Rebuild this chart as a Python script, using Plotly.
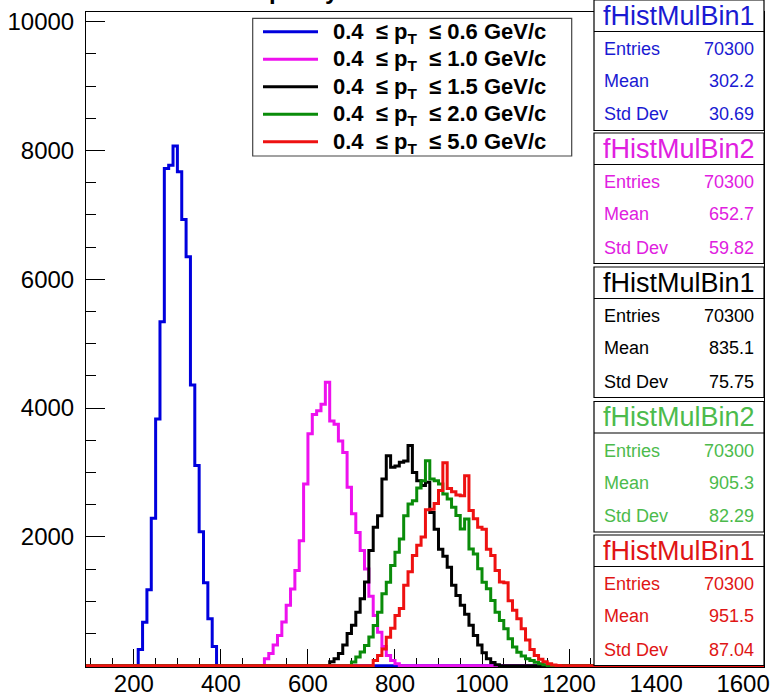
import plotly.graph_objects as go

# ---------------- data ----------------
BIN_WIDTH = 10
GRID_START, GRID_END = 90, 1650

blue_start = 210
blue_counts = [250, 675, 1180, 2290, 3830, 5340, 7720, 7770, 8070, 7670,
               6930, 6350, 4360, 3110, 2080, 1290, 730, 300]

magenta_start = 500
magenta_counts = [110, 190, 320, 470, 680, 940, 1190, 1480, 1940, 2820,
                  3600, 3900, 3960, 4060, 4400, 3800, 3750, 3490, 3310, 2770,
                  2360, 2070, 1790, 1500, 1080, 780, 520, 300, 160, 80, 30]

black_start = 650
black_counts = [60, 110, 190, 320, 500, 630, 830, 1040, 1300, 1790,
                2150, 2330, 2900, 3260, 3080, 3100, 3160, 3180, 3420, 3000,
                2870, 2800, 2850, 2380, 2120, 1810, 1700, 1530, 1250, 1090,
                940, 800, 630, 470, 320, 200, 110, 50, 15]

green_start = 700
green_counts = [57, 134, 212, 315, 444, 625, 832, 1116, 1297, 1556,
                1762, 1969, 2330, 2512, 2563, 2760, 2873, 3183, 2899, 2873,
                2822, 2667, 2589, 2460, 2331, 2124, 2279, 1814, 1736, 1504,
                1297, 1194, 1013, 832, 703, 574, 419, 290, 210, 150,
                110, 80, 55, 30, 15, 5]

red_start = 750
red_counts = [80, 160, 260, 440, 580, 780, 890, 1250, 1460, 1710,
              1870, 2000, 2420, 2430, 2520, 2720, 3150, 2750, 2700, 2650,
              2640, 2950, 2410, 2280, 2150, 2120, 1810, 1710, 1480, 1300,
              1290, 1010, 860, 730, 575, 400, 250, 160, 100, 60, 30, 12, 5]

hist_names = ["fHistMulBin1", "fHistMulBin2", "fHistMulBin1", "fHistMulBin2", "fHistMulBin1"]
pt_low = "0.4"
pt_high = ["0.6", "1.0", "1.5", "2.0", "5.0"]
entries = [70300, 70300, 70300, 70300, 70300]
means = [302.2, 652.7, 835.1, 905.3, 951.5]
std_devs = [30.69, 59.82, 75.75, 82.29, 87.04]

x_ticks = [200, 400, 600, 800, 1000, 1200, 1400, 1600]
y_ticks = [2000, 4000, 6000, 8000, 10000]

title_text = "Multiplicity distribution"

# ---------------- styling ----------------
W, H = 774, 697
ML, MR, MT, MB = 86, 10, 12, 30
PW, PH = W - ML - MR, H - MT - MB
X_RANGE = [90, 1648]
Y_RANGE = [-20, 10150]

line_colors = ["#0000dd", "#ee11ee", "#000000", "#0a8c0a", "#ee1111"]
text_colors = ["#1a1ad2", "#e020e0", "#000000", "#4cbb4c", "#e01515"]
FONT = "Liberation Sans, Arial, Helvetica, sans-serif"


def px(xp):
    return (xp - ML) / PW


def py(yp):
    return 1 - (yp - MT) / PH


series = [
    (blue_start, blue_counts),
    (magenta_start, magenta_counts),
    (black_start, black_counts),
    (green_start, green_counts),
    (red_start, red_counts),
]

n_bins = (GRID_END - GRID_START) // BIN_WIDTH
edges = [GRID_START + i * BIN_WIDTH for i in range(n_bins + 1)]

fig = go.Figure()
for (start, counts), col in zip(series, line_colors):
    full = [0] * n_bins
    off = (start - GRID_START) // BIN_WIDTH
    full[off:off + len(counts)] = counts
    fig.add_trace(go.Scatter(
        x=edges, y=full + [full[-1]], mode="lines",
        line=dict(shape="hv", width=3, color=col),
        hoverinfo="skip", showlegend=False))

shapes = []
annotations = []

# ---- legend box ----
LX0, LX1, LY0, LY1 = 252.7, 571.7, 18.3, 156
shapes.append(dict(type="rect", xref="paper", yref="paper", layer="above",
                   x0=px(LX0), x1=px(LX1), y0=py(LY1), y1=py(LY0),
                   line=dict(color="#444444", width=1.2), fillcolor="white"))
leg_rows = [31.7, 59.2, 86.7, 114.2, 141.7]
nb = "\u00a0"
for i, yr in enumerate(leg_rows):
    shapes.append(dict(type="line", xref="paper", yref="paper", layer="above",
                       x0=px(263), x1=px(318), y0=py(yr), y1=py(yr),
                       line=dict(color=line_colors[i], width=3)))
    txt = (f"<b>{pt_low}{nb}{nb}≤{nb}p<sub>T</sub>{nb}{nb}≤{nb}{pt_high[i]}{nb}GeV/c</b>")
    annotations.append(dict(xref="paper", yref="paper", x=px(331), y=py(yr + 1),
                            xanchor="left", yanchor="middle", showarrow=False,
                            text=txt, font=dict(family=FONT, size=22, color="black")))

# ---- stat boxes ----
SX0, SX1 = 594, 764
tops = [0, 133, 267, 401.5, 535]
BOX_H = 130.5
for i, top in enumerate(tops):
    bot = top + BOX_H
    shapes.append(dict(type="rect", xref="paper", yref="paper", layer="above",
                       x0=px(SX0), x1=px(SX1), y0=py(bot), y1=py(top),
                       line=dict(color="black", width=1.2), fillcolor="white"))
    shapes.append(dict(type="line", xref="paper", yref="paper", layer="above",
                       x0=px(SX0), x1=px(SX1), y0=py(top + 31.5), y1=py(top + 31.5),
                       line=dict(color="black", width=1.2)))
    c = text_colors[i]
    annotations.append(dict(xref="paper", yref="paper", x=px((SX0 + SX1) / 2), y=py(top + 15.5),
                            xanchor="center", yanchor="middle", showarrow=False,
                            text=hist_names[i], font=dict(family=FONT, size=27, color=c)))
    rows = [("Entries", str(entries[i])),
            ("Mean", f"{means[i]:.4g}"),
            ("Std Dev", f"{std_devs[i]:.4g}")]
    for (lab, val), off in zip(rows, [49, 81, 114.5]):
        annotations.append(dict(xref="paper", yref="paper", x=px(602), y=py(top + off),
                                xanchor="left", yanchor="middle", showarrow=False,
                                text=lab, font=dict(family=FONT, size=18, color=c)))
        annotations.append(dict(xref="paper", yref="paper", x=px(756), y=py(top + off),
                                xanchor="right", yanchor="middle", showarrow=False,
                                text=val, font=dict(family=FONT, size=18, color=c)))

# ---- title (mostly cut off at top) ----
annotations.append(dict(xref="paper", yref="paper", x=px(345), y=1, yshift=6,
                        xanchor="center", yanchor="bottom", showarrow=False,
                        text=f"<b>{title_text}</b>",
                        font=dict(family=FONT, size=24, color="black")))

fig.update_layout(
    width=W, height=H,
    margin=dict(l=ML, r=MR, t=MT, b=MB, pad=0, autoexpand=False),
    paper_bgcolor="white", plot_bgcolor="white",
    showlegend=False,
    shapes=shapes, annotations=annotations,
    xaxis=dict(range=X_RANGE, tickvals=x_ticks, ticktext=[str(v) for v in x_ticks],
               automargin=False,
               showgrid=False, zeroline=False, showline=True, mirror=True,
               linecolor="black", linewidth=1, ticks="inside", ticklen=18,
               tickcolor="black", tickwidth=1, layer="below traces",
               tickfont=dict(family=FONT, size=24, color="black"),
               ticklabelstandoff=-5,
               minor=dict(dtick=50, tick0=0, ticks="inside", ticklen=9,
                          tickcolor="black", tickwidth=1, showgrid=False)),
    yaxis=dict(range=Y_RANGE, tickvals=y_ticks, ticktext=[str(v) for v in y_ticks],
               automargin=False,
               showgrid=False, zeroline=False, showline=True, mirror=True,
               linecolor="black", linewidth=1, ticks="inside", ticklen=19,
               tickcolor="black", tickwidth=1, layer="below traces",
               tickfont=dict(family=FONT, size=24, color="black"),
               ticklabelstandoff=6,
               minor=dict(dtick=500, tick0=0, ticks="inside", ticklen=10,
                          tickcolor="black", tickwidth=1, showgrid=False)),
)

fig.write_html("out.html")
